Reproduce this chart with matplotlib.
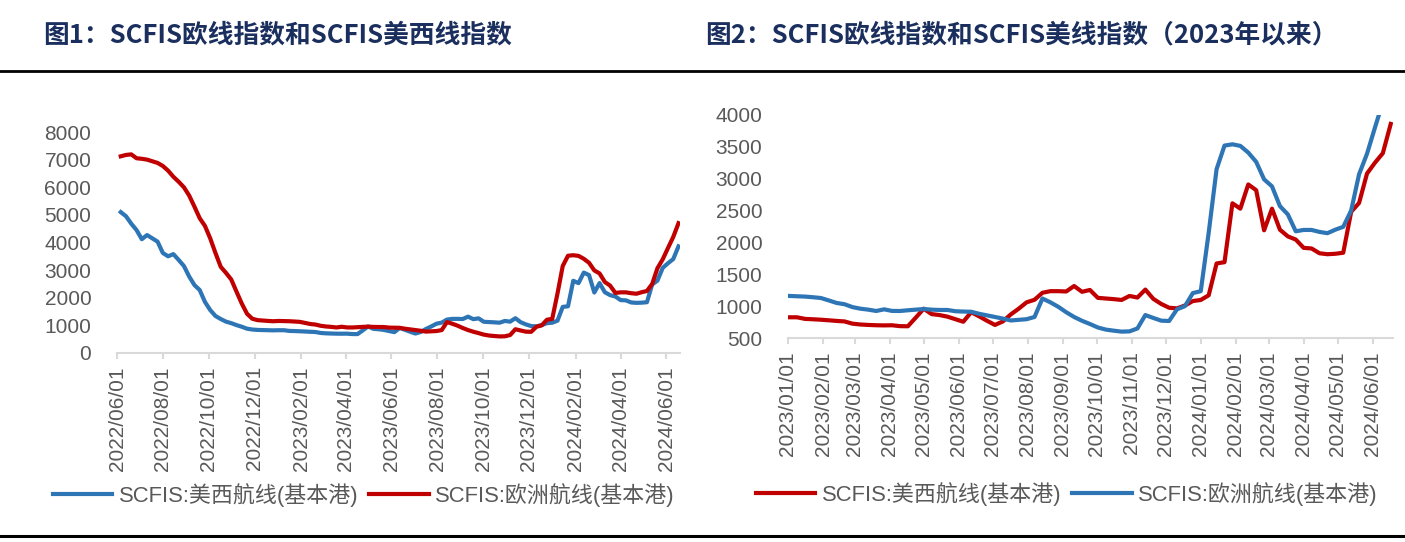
import matplotlib
matplotlib.use('Agg')
import matplotlib.pyplot as plt
import matplotlib.dates as mdates
from matplotlib.lines import Line2D
import pandas as pd

# weekly SCFIS readings (Mondays)
eu_2022 = [7120, 7170, 7190, 7050, 7030, 7000, 6940, 6880, 6770, 6600,
           6380, 6200, 6000, 5700, 5300, 4880, 4600, 4150, 3620, 3120,
           2900, 2660, 2220, 1790, 1420, 1240, 1190, 1175, 1160, 1150]
usw_2022 = [5100, 4950, 4680, 4450, 4120, 4270, 4150, 4030, 3620, 3500,
            3580, 3370, 3150, 2770, 2460, 2280, 1850, 1555, 1340, 1230,
            1135, 1080, 1010, 950, 880, 850, 835, 830, 825, 820]
eu_2023 = [1160, 1155, 1150, 1140, 1128, 1090, 1050, 1030, 985, 960,
           945, 924, 950, 925, 924, 935, 945, 955, 945, 940,
           940, 920, 915, 912, 880, 855, 830, 805, 775, 785,
           795, 830, 1120, 1060, 990, 905, 830, 770, 720, 665,
           632, 615, 600, 604, 650, 860, 815, 772, 767, 950,
           1000, 1205, 1235, 2150, 3150, 3520, 3540, 3515, 3410, 3265,
           2990, 2880, 2570, 2440, 2175, 2196, 2196, 2165, 2145, 2200,
           2245, 2500, 3070, 3390, 3800, 4200, 4700]
usw_2023 = [825, 825, 800, 794, 787, 778, 768, 760, 725, 712,
            705, 700, 698, 700, 686, 684, 820, 960, 875, 860,
            835, 795, 755, 905, 840, 770, 705, 760, 870, 960,
            1060, 1100, 1210, 1235, 1235, 1230, 1316, 1225, 1254, 1130,
            1120, 1110, 1097, 1160, 1135, 1260, 1115, 1035, 975, 965,
            1010, 1080, 1097, 1170, 1670, 1690, 2614, 2530, 2910, 2820,
            2190, 2530, 2200, 2095, 2045, 1915, 1905, 1830, 1815, 1822,
            1838, 2480, 2620, 3080, 3250, 3400, 3860]

eu = eu_2022 + eu_2023
usw = usw_2022 + usw_2023
dates = pd.date_range('2022-06-06', periods=len(eu), freq='7D')
dates_2023 = dates[len(eu_2022):]

label_usw = 'SCFIS:美西航线(基本港)'
label_eu = 'SCFIS:欧洲航线(基本港)'
title1 = '图1：SCFIS欧线指数和SCFIS美西线指数'
title2 = '图2：SCFIS欧线指数和SCFIS美线指数（2023年以来）'

BLUE = '#2E75B6'
RED = '#C00000'
GREY = '#595959'
AXIS = '#D9D9D9'
FONT = ['Liberation Sans', 'Noto Sans CJK SC']

plt.rcParams['font.family'] = FONT

W, H = 1405, 542
fig = plt.figure(figsize=(W / 100, H / 100), dpi=100)


def px_axes(x0, x1, y_top, y_bot):
    return fig.add_axes([x0 / W, 1 - y_bot / H, (x1 - x0) / W, (y_bot - y_top) / H])


def style(ax):
    for s in ['top', 'right', 'left']:
        ax.spines[s].set_visible(False)
    ax.spines['bottom'].set_color(AXIS)
    ax.spines['bottom'].set_linewidth(1.5)
    ax.tick_params(axis='y', length=0, pad=18.5, labelsize=15, labelcolor=GREY)
    ax.tick_params(axis='x', length=4.5, width=1.5, color=AXIS, pad=5,
                   labelsize=15, labelcolor=GREY, labelrotation=90)
    ax.xaxis.set_major_formatter(mdates.DateFormatter('%Y/%m/%d'))


# panel 1
ax1 = px_axes(117, 680, 132, 353)
l1, = ax1.plot(dates, usw, color=BLUE, lw=3, solid_joinstyle='round')
l2, = ax1.plot(dates, eu, color=RED, lw=3, solid_joinstyle='round')
ax1.set_ylim(0, 8000)
ax1.set_yticks(range(0, 8001, 1000))
ax1.set_xlim(pd.Timestamp('2022-06-01'), pd.Timestamp('2024-06-19'))
ax1.xaxis.set_major_locator(mdates.MonthLocator(bymonth=[2, 4, 6, 8, 10, 12]))
style(ax1)

# panel 2
ax2 = px_axes(788, 1393, 115, 338)
r1, = ax2.plot(dates_2023, usw_2023, color=RED, lw=3, solid_joinstyle='round')
r2, = ax2.plot(dates_2023, eu_2023, color=BLUE, lw=3, solid_joinstyle='round')
ax2.set_ylim(500, 4000)
ax2.set_yticks(range(500, 4001, 500))
ax2.set_xlim(pd.Timestamp('2023-01-01'), pd.Timestamp('2024-06-19'))
ax2.xaxis.set_major_locator(mdates.MonthLocator())
style(ax2)

leg_kw = dict(loc='center', ncol=2, frameon=False, handlelength=2.7,
              handletextpad=0.3, columnspacing=0.5, fontsize=15.8, labelcolor=GREY)
fig.legend([l1, l2], [label_usw, label_eu], bbox_to_anchor=(364 / W, 1 - 495 / H), **leg_kw)
fig.legend([r1, r2], [label_usw, label_eu], bbox_to_anchor=(1067 / W, 1 - 494 / H), **leg_kw)

# titles and rules
tkw = dict(va='center', ha='left', fontsize=18.5, fontweight='bold', color='#1B2F5E',
           family=['Noto Sans CJK SC'])
fig.text(43 / W, 1 - 35 / H, title1, **tkw)
fig.text(705 / W, 1 - 35 / H, title2, **tkw)
fig.add_artist(Line2D([0, 1], [1 - 71 / H, 1 - 71 / H], transform=fig.transFigure,
                      color='black', lw=2))
fig.add_artist(Line2D([0, 1], [1 - 536 / H, 1 - 536 / H], transform=fig.transFigure,
                      color='black', lw=2.2))

fig.savefig('out.png', dpi=100)
